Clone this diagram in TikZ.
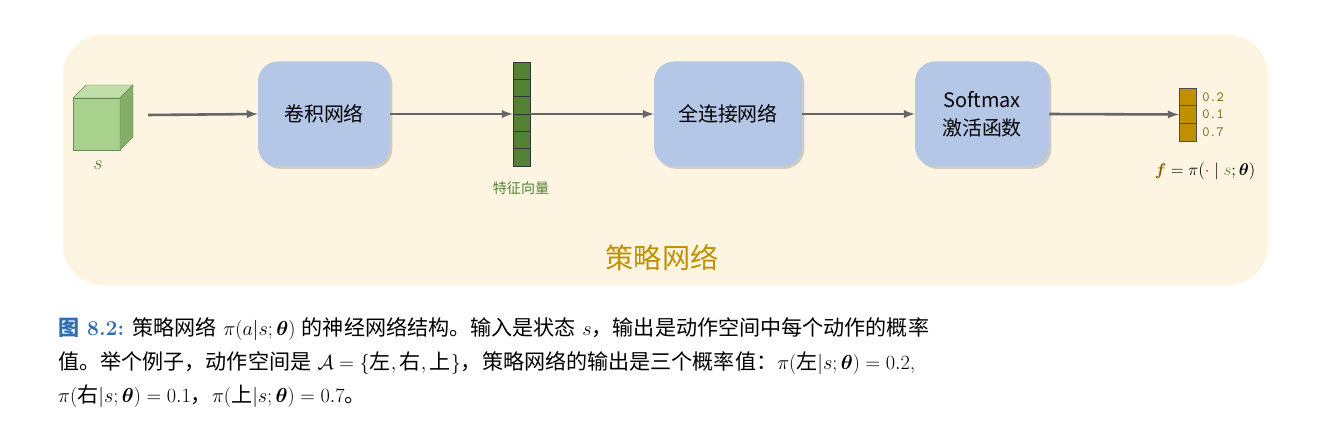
\documentclass[tikz,border=0pt]{standalone}
\usepackage{amsmath}
\usepackage{fontspec}
\newfontfamily\cjk{Noto Sans CJK SC}
\usetikzlibrary{shadows}
\definecolor{bgc}{HTML}{FDF5E2}
\definecolor{boxc}{HTML}{B4C7E7}
\definecolor{cubef}{HTML}{A9D18E}
\definecolor{cubes}{HTML}{84AE68}
\definecolor{cubet}{HTML}{C0DDAA}
\definecolor{vecg}{HTML}{548235}
\definecolor{gold}{HTML}{BF9000}
\definecolor{brn}{HTML}{7F6000}
\definecolor{capblue}{HTML}{2F6DB5}
\newcommand{\cz}[1]{\mbox{\cjk #1}}
\begin{document}
\begin{tikzpicture}[x=0.03cm,y=-0.03cm,
 arr/.style={draw=black!60,line width=2.2pt,-latex},
 netbox/.style={draw=none,fill=boxc,rounded corners=0.6cm,drop shadow={opacity=0.35,shadow xshift=2pt,shadow yshift=-2pt},align=center,font=\cjk\fontsize{17}{24}\selectfont},
 captext/.style={anchor=base west,inner sep=0pt,font=\fontsize{18}{22}\selectfont}]
\useasboundingbox (0,0) rectangle (1328,428);
\fill[bgc,rounded corners=1.2cm] (63,35) rectangle (1268,285);
% cube
\draw[draw=cubes!80!black,fill=cubef] (73,98) rectangle (120,150);
\draw[draw=cubes!80!black,fill=cubet] (73,98) -- (86,85) -- (133,85) -- (120,98) -- cycle;
\draw[draw=cubes!80!black,fill=cubes] (120,98) -- (133,85) -- (133,137) -- (120,150) -- cycle;
\node[text=vecg] (s) at (98,165) {\fontsize{17}{20}\selectfont$s$};
\node[netbox,minimum width=132*0.03cm,minimum height=105*0.03cm] (cnn) at (324,114) {卷积网络};
% feature vector
\foreach \i in {0,...,5}{\draw[fill=vecg,draw=black!80] (513,62+\i*17.3) rectangle (530,62+\i*17.3+17.3);}
\node[inner sep=0pt,minimum width=17*0.03cm,minimum height=104*0.03cm] (vec) at (521.5,114) {};
\node[text=vecg,font=\cjk\fontsize{12}{14}\selectfont] (vl) at (521,188) {特征向量};
\node[netbox,minimum width=148*0.03cm,minimum height=105*0.03cm] (fc) at (728,114) {全连接网络};
\node[netbox,minimum width=134*0.03cm,minimum height=105*0.03cm] (sm) at (982,114) {\fontsize{17}{24}\selectfont Softmax\\激活函数};
% output
\foreach \i in {0,...,2}{\draw[fill=gold,draw=black!70] (1179,88+\i*17.7) rectangle (1196,88+\i*17.7+17.7);}
\node[inner sep=0pt,minimum width=17*0.03cm,minimum height=53*0.03cm] (out) at (1187.5,114.5) {};
\foreach \v/\k in {0.2/0,0.1/1,0.7/2}{\node[anchor=west,inner sep=0pt,text=brn,font=\ttfamily\fontsize{12}{14}\selectfont] (p\k) at (1202,97+\k*17.7) {\v};}
\node (f) at (1205,171) {\fontsize{14}{16}\selectfont$\color{brn}\boldsymbol{f}\color{black} = \pi(\color{red}\cdot\color{black}\mid \color{vecg}s\color{black};\boldsymbol{\theta})$};
\coordinate (cube) at (148,115);
\draw[arr] (cube) -- (cnn.west);
\draw[arr] (cnn.east) -- (vec.west);
\draw[arr] (vec.east) -- (fc.west);
\draw[arr] (fc.east) -- (sm.west);
\draw[arr] (sm.east) -- (out.west);
\node[text=gold,font=\cjk\fontsize{24}{28}\selectfont] (title) at (662,258) {策略网络};
% caption
\node[captext] (c1) at (58,335) {\textbf{\color{capblue}\cz{图} 8.2:} \cz{策略网络} $\pi(a|s;\boldsymbol{\theta})$ \cz{的神经网络结构。输入是状态} $s$\cz{，输出是动作空间中每个动作的概率}};
\node[captext] (c2) at (58,369) {\cz{值。举个例子，动作空间是} $\mathcal{A}=\{\cz{左},\cz{右},\cz{上}\}$\cz{，策略网络的输出是三个概率值：}$\pi(\cz{左}|s;\boldsymbol{\theta})=0.2$,};
\node[captext] (c3) at (58,402) {$\pi(\cz{右}|s;\boldsymbol{\theta})=0.1$\cz{，}$\pi(\cz{上}|s;\boldsymbol{\theta})=0.7$\cz{。}};
\end{tikzpicture}
\end{document}
